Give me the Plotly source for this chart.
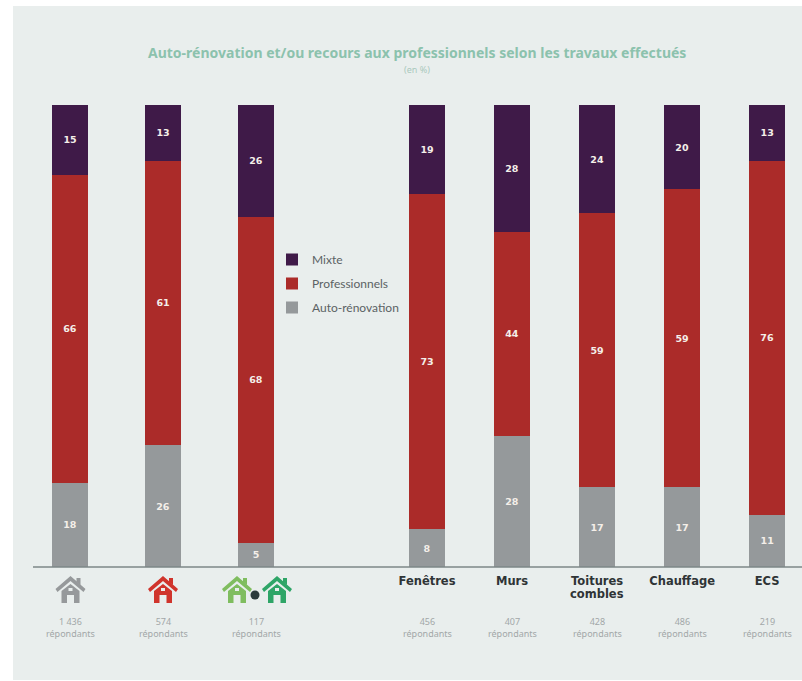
import plotly.graph_objects as go

W, H = 802, 681
groups_left = ["Tous logements", "Maison", "Maison + maison"]
groups_right = ["Fenêtres", "Murs", "Toitures combles", "Chauffage", "ECS"]
right_tick_text = ["Fenêtres", "Murs", "Toitures", "Chauffage", "ECS"]
respondents_left = ["1 436", "574", "117"]
respondents_right = ["456", "407", "428", "486", "219"]

# drawn heights
auto_left = [18.2, 26.4, 5.2]
pro_left = [66.7, 61.5, 70.6]
mixte_left = [15.2, 12.1, 24.2]
auto_right = [8.2, 28.4, 17.3, 17.3, 11.3]
pro_right = [72.5, 44.2, 59.3, 64.5, 76.6]
mixte_right = [19.3, 27.5, 23.4, 18.2, 12.1]

# printed labels
auto_lab_left = ["18", "26", "5"]
pro_lab_left = ["66", "61", "68"]
mixte_lab_left = ["15", "13", "26"]
auto_lab_right = ["8", "28", "17", "17", "11"]
pro_lab_right = ["73", "44", "59", "59", "76"]
mixte_lab_right = ["19", "28", "24", "20", "13"]

GREY, RED, PURPLE = "#95999b", "#ab2b29", "#3f1a48"
PANEL = "#e9eeed"
LAB = dict(family="DejaVu Sans", size=9.5, color="#f4efe9", weight="bold")


def px(x):
    return x / W


def py(y):
    return 1 - y / H


fig = go.Figure()
series = [
    ("Auto-rénovation", GREY, auto_left, auto_right, auto_lab_left, auto_lab_right),
    ("Professionnels", RED, pro_left, pro_right, pro_lab_left, pro_lab_right),
    ("Mixte", PURPLE, mixte_left, mixte_right, mixte_lab_left, mixte_lab_right),
]
common = dict(textposition="inside", insidetextanchor="middle", constraintext="none",
              textangle=0, textfont=LAB, marker_line_width=0, hoverinfo="x+name")
for (name, col, vl, vr, tl, tr), rank in zip(series, [3, 2, 1]):
    fig.add_bar(x=groups_left, y=vl, name=name, marker_color=col, text=tl,
                xaxis="x", yaxis="y", legendgroup=name, legendrank=rank, **common)
    fig.add_bar(x=groups_right, y=vr, name=name, marker_color=col, text=tr,
                xaxis="x2", yaxis="y2", legendgroup=name, showlegend=False, legendrank=rank, **common)

shapes = [dict(type="rect", xref="paper", yref="paper", x0=px(13), x1=1, y0=py(680), y1=py(6),
               fillcolor=PANEL, line_width=0, layer="below"),
          dict(type="line", xref="paper", yref="paper", x0=px(33), x1=1, y0=py(567), y1=py(567),
               line=dict(color="#7c8787", width=1.5))]


def poly(pts, col):
    d = "M" + " L".join(f"{px(a):.5f},{py(b):.5f}" for a, b in pts) + " Z"
    return dict(type="path", xref="paper", yref="paper", path=d, fillcolor=col, line_width=0)


def house(c, col):
    t = 576
    return [
        poly([(c + 6, t + 2), (c + 10, t + 2), (c + 10, t + 9), (c + 6, t + 6)], col),
        poly([(c, t), (c + 15, t + 13), (c + 13, t + 16), (c, t + 5), (c - 13, t + 16), (c - 15, t + 13)], col),
        poly([(c, t + 8), (c + 9, t + 15), (c + 9, t + 27), (c + 3.5, t + 27), (c + 3.5, t + 19),
              (c - 3.5, t + 19), (c - 3.5, t + 27), (c - 9, t + 27), (c - 9, t + 15)], col),
        poly([(c - 2, t + 12), (c + 2, t + 12), (c + 2, t + 15), (c - 2, t + 15)], PANEL),
    ]


for c, col in [(70.5, "#96999b"), (163, "#d0342c"), (237, "#7fbd5f"), (277, "#2ea567")]:
    shapes += house(c, col)
shapes.append(dict(type="circle", xref="paper", yref="paper", x0=px(250.5), x1=px(259.5),
                   y0=py(599.5), y1=py(590.5), fillcolor="#2b3a3c", line_width=0))

resp_font = dict(family="Noto Sans", size=9, color="#a2a7a8")
anns = []
for cats, vals, ax in [(groups_left, respondents_left, "x"), (groups_right, respondents_right, "x2")]:
    for c, v in zip(cats, vals):
        anns.append(dict(x=c, xref=ax, y=py(627), yref="paper", text=f"{v}<br>répondants",
                         showarrow=False, font=resp_font, yanchor="middle"))
anns += [
    dict(x=groups_right[2], xref="x2", y=py(594), yref="paper", text="<b>combles</b>", showarrow=False,
         yanchor="middle", font=dict(family="DejaVu Sans", size=11.5, color="#2f3436")),
    dict(x=px(417), xref="paper", y=py(52), yref="paper",
         text="<b>Auto-rénovation et/ou recours aux professionnels selon les travaux effectués</b>",
         showarrow=False, yanchor="middle", font=dict(family="Noto Sans", size=14, color="#8cc2ad")),
    dict(x=px(417), xref="paper", y=py(69), yref="paper", text="(en %)", showarrow=False,
         yanchor="middle", font=dict(family="Noto Sans", size=9, color="#a9c9bd")),
]

ydom = [py(567), py(105)]
fig.update_layout(
    width=W, height=H, autosize=False, margin=dict(l=0, r=0, t=0, b=0),
    paper_bgcolor="white", plot_bgcolor="rgba(0,0,0,0)", barmode="stack",
    bargap=1 - 36 / 93, shapes=shapes, annotations=anns,
    legend=dict(x=px(272), xanchor="left", y=py(245), yanchor="top", bgcolor="rgba(0,0,0,0)",
                traceorder="grouped", tracegroupgap=5,
                font=dict(family="Lato", size=12, color="#5b6264")),
    xaxis=dict(domain=[px(23.5), px(302.5)], range=[-0.5, 2.5], showticklabels=False, ticks="",
               showgrid=False, zeroline=False, showline=False, fixedrange=True),
    xaxis2=dict(domain=[px(384.5), 1], range=[-0.5, 4.41], anchor="y2", showgrid=False,
                zeroline=False, showline=False, tickmode="array", tickvals=groups_right,
                ticktext=right_tick_text, ticks="outside", ticklen=3, tickcolor="rgba(0,0,0,0)",
                tickfont=dict(family="DejaVu Sans", size=11.5, color="#2f3436", weight="bold")),
    yaxis=dict(domain=ydom, range=[0, 100], visible=False),
    yaxis2=dict(domain=ydom, range=[0, 100], visible=False, anchor="x2"),
)
# bars in the right-hand group have a narrower pitch, so width is set per axis
fig.update_traces(width=36 / 93, selector=dict(xaxis="x"))
fig.update_traces(width=36 / 85, selector=dict(xaxis="x2"))
fig.write_html("out.html", post_script="document.body.style.margin='0';",
               config=dict(displayModeBar=False))
